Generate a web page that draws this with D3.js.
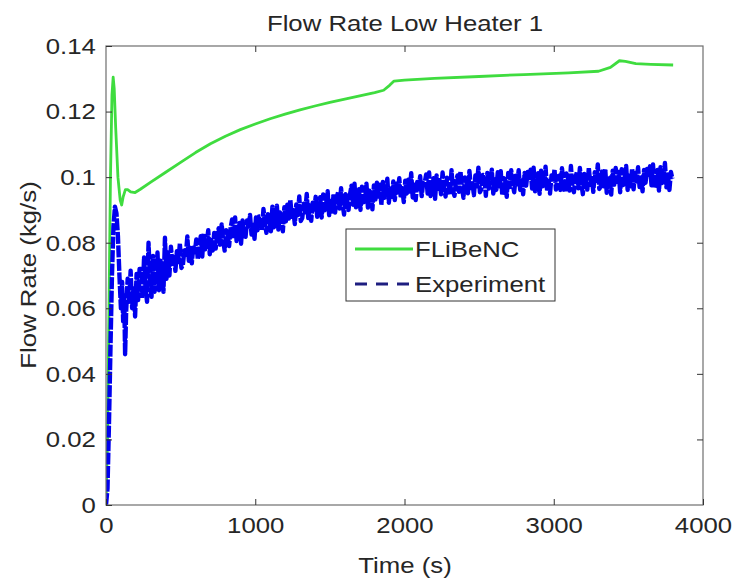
<!DOCTYPE html>
<html><head><meta charset="utf-8">
<script src="https://cdn.jsdelivr.net/npm/d3@7"></script>
<style>body{margin:0;background:#fff}svg{display:block}text{font-family:"Liberation Sans",Arial,sans-serif;fill:#262626}</style>
</head><body>
<svg id="c" width="733" height="579"></svg>
<script>
const title = "Flow Rate Low Heater 1";
const xLabel = "Time (s)";
const yLabel = "Flow Rate (kg/s)";
const xTicks = [0, 1000, 2000, 3000, 4000];
const xTickLabels = ["0", "1000", "2000", "3000", "4000"];
const yTicks = [0, 0.02, 0.04, 0.06, 0.08, 0.1, 0.12, 0.14];
const yTickLabels = ["0", "0.02", "0.04", "0.06", "0.08", "0.1", "0.12", "0.14"];
const seriesNames = ["FLiBeNC", "Experiment"];

// FLiBeNC model
const simTime = [0,10,20,30,40,48,55,65,80,95,105,115,130,145,165,195,230,300,400,500,600,700,800,900,1000,1100,1200,1300,1400,1500,1600,1700,1800,1860,1900,1930,2000,2200,2500,2800,3100,3300,3380,3440,3480,3550,3650,3800];
const simFlow = [0,0.02,0.06,0.1,0.125,0.1305,0.127,0.115,0.1,0.093,0.0915,0.094,0.0962,0.0962,0.0955,0.0953,0.0963,0.0985,0.1015,0.1045,0.1075,0.1102,0.1125,0.1145,0.1162,0.1178,0.1192,0.1205,0.1217,0.1228,0.1238,0.1248,0.1258,0.1265,0.128,0.1293,0.1296,0.1301,0.1307,0.1313,0.1318,0.1323,0.1335,0.1355,0.1353,0.1346,0.1344,0.1342];

// Experiment: start-up transient
const expStartTime = [0,10,20,30,40,50,60,70,80,90,100,108,115,122,128];
const expStartFlow = [0,0.005,0.025,0.048,0.07,0.085,0.091,0.089,0.082,0.07,0.06,0.068,0.056,0.064,0.046];
// Experiment: sampled record from t = 135 s every 10 s
const expSampleStart = 135, expSampleStep = 10;
const expFlow = [
.0590,.0690,.0620,.0715,.0600,.0670,.0575,.0705,.0625,.0720,
.0720,.0630,.0755,.0660,.0620,.0800,.0685,.0635,.0760,.0650,
.0680,.0770,.0655,.0745,.0725,.0650,.0815,.0690,.0770,.0700,
.0788,.0736,.0756,.0714,.0774,.0741,.0798,.0723,.0732,.0776,
.0763,.0819,.0745,.0784,.0737,.0792,.0771,.0810,.0749,.0789,
.0820,.0758,.0828,.0780,.0800,.0838,.0765,.0808,.0776,.0830,
.0782,.0826,.0844,.0794,.0856,.0808,.0776,.0838,.0823,.0790,
.0845,.0871,.0813,.0877,.0805,.0829,.0860,.0797,.0868,.0820,
.0818,.0868,.0842,.0885,.0825,.0854,.0812,.0877,.0838,.0880,
.0880,.0837,.0903,.0860,.0830,.0887,.0873,.0835,.0910,.0847,
.0860,.0913,.0840,.0892,.0885,.0835,.0908,.0865,.0916,.0874,
.0931,.0879,.0899,.0857,.0917,.0884,.0941,.0866,.0875,.0919,
.0893,.0949,.0875,.0914,.0867,.0922,.0901,.0940,.0879,.0919,
.0939,.0877,.0947,.0899,.0919,.0957,.0884,.0927,.0895,.0949,
.0892,.0936,.0954,.0904,.0966,.0918,.0886,.0948,.0933,.0900,
.0948,.0974,.0916,.0980,.0908,.0932,.0963,.0900,.0971,.0923,
.0927,.0980,.0907,.0959,.0952,.0902,.0975,.0932,.0983,.0941,
.0977,.0915,.0985,.0937,.0957,.0995,.0922,.0965,.0933,.0987,
.0930,.0980,.0954,.0997,.0937,.0966,.0924,.0989,.0950,.0992,
.0956,.1012,.0938,.0977,.0930,.0985,.0964,.1003,.0942,.0982,
.0982,.1008,.0950,.1014,.0942,.0966,.0997,.0934,.1005,.0957,
.0991,.0948,.1014,.0971,.0941,.0998,.0984,.0946,.1021,.0958,
.0943,.0987,.1005,.0955,.1017,.0969,.0937,.0999,.0984,.0951,
.1019,.0967,.0987,.0945,.1005,.0972,.1029,.0954,.0963,.1007,
.1005,.0943,.1013,.0965,.0985,.1023,.0950,.0993,.0961,.1015,
.0965,.1018,.0945,.0997,.0990,.0940,.1013,.0970,.1021,.0979,
.0954,.1004,.0978,.1021,.0961,.0990,.0948,.1013,.0974,.1016,
.0997,.1023,.0965,.1029,.0957,.0981,.1012,.0949,.1020,.0972,
.0976,.1032,.0958,.0997,.0950,.1005,.0984,.1023,.0962,.1002,
.1004,.0961,.1027,.0984,.0954,.1011,.0997,.0959,.1034,.0971,
.0954,.0998,.1016,.0966,.1028,.0980,.0948,.1010,.0995,.0962,
.1029,.0977,.0997,.0955,.1015,.0982,.1039,.0964,.0973,.1017,
.0972,.1025,.0952,.1004,.0997,.0947,.1020,.0977,.1028,.0986,
.1016,.0954,.1024,.0976,.0996,.1034,.0961,.1004,.0972,.1026,
.0963,.1013,.0987,.1030,.0970,.0999,.0957,.1022,.0983,.1025,
.1007,.1033,.0975,.1039,.0967,.0991,.1022,.0959,.1030,.0982,
.0987,.1043,.0969,.1008,.0961,.1016,.0995];

const simData = simTime.map((t,i)=>({t, v: simFlow[i]}));
const expData = expStartTime.map((t,i)=>({t, v: expStartFlow[i]}))
  .concat(expFlow.map((v,i)=>({t: expSampleStart + i*expSampleStep, v})));

const L = 106, R = 703, T = 46, B = 505;
const FS = 23, SX = 1.12;
const x = d3.scaleLinear().domain([0,4000]).range([L,R]);
const y = d3.scaleLinear().domain([0,0.14]).range([B,T]);
const svg = d3.select("#c");

svg.append("defs").append("clipPath").attr("id","clip")
  .append("rect").attr("x",L).attr("y",T).attr("width",R-L).attr("height",B-T);

const line = d3.line().x(d=>x(d.t)).y(d=>y(d.v));
const gPlot = svg.append("g").attr("clip-path","url(#clip)");
gPlot.append("path").datum(simData).attr("d",line)
  .attr("fill","none").attr("stroke","#3fdc3f").attr("stroke-width",2.8).attr("stroke-linejoin","round");
gPlot.append("path").datum(expData).attr("d",line)
  .attr("fill","none").attr("stroke","#0000ee").attr("stroke-width",4.4)
  .attr("stroke-dasharray","12,1.5").attr("stroke-linejoin","round");

// Box
svg.append("rect").attr("x",L).attr("y",T).attr("width",R-L).attr("height",B-T)
  .attr("fill","none").attr("stroke","#6e6e6e").attr("stroke-width",1.2);

function styleAxis(g){
  g.select(".domain").remove();
  g.selectAll(".tick line").attr("stroke","#333").attr("stroke-width",1);
}
const gx = svg.append("g").attr("transform",`translate(0,${B})`)
  .call(d3.axisBottom(x).tickValues(xTicks).tickSize(-6).tickPadding(12).tickFormat((d,i)=>xTickLabels[i]));
styleAxis(gx);
gx.selectAll(".tick text").attr("font-size",FS).attr("fill","#262626")
  .attr("transform",`scale(${SX},1)`).attr("x",0);
svg.append("g").attr("transform",`translate(0,${T})`)
  .call(d3.axisTop(x).tickValues(xTicks.slice(1,-1)).tickSize(-6).tickFormat(""))
  .call(g=>styleAxis(g));
const gy = svg.append("g").attr("transform",`translate(${L},0)`)
  .call(d3.axisLeft(y).tickValues(yTicks).tickSize(-6).tickPadding(9).tickFormat((d,i)=>yTickLabels[i]));
styleAxis(gy);
gy.selectAll(".tick text").attr("font-size",FS).attr("fill","#262626")
  .attr("transform",`scale(${SX},1)`);
svg.append("g").attr("transform",`translate(${R},0)`)
  .call(d3.axisRight(y).tickValues(yTicks.slice(1,-1)).tickSize(-6).tickFormat(""))
  .call(g=>styleAxis(g));

// Title and labels
function stretchedText(tx, ty, str, size, anchor, rot){
  const g = svg.append("g").attr("transform",`translate(${tx},${ty})` + (rot?` rotate(${rot})`:"") + ` scale(${SX},1)`);
  return g.append("text").attr("text-anchor",anchor).attr("font-size",size).text(str);
}
stretchedText(405, 31, title, FS, "middle");
stretchedText(405, 573, xLabel, FS, "middle");
stretchedText(36, 275, yLabel, FS, "middle", -90);

// Legend
const lg = svg.append("g");
lg.append("rect").attr("x",346).attr("y",229).attr("width",209).attr("height",72)
  .attr("fill","#fff").attr("stroke","#333").attr("stroke-width",1);
lg.append("line").attr("x1",355).attr("x2",413).attr("y1",249).attr("y2",249)
  .attr("stroke","#3fdc3f").attr("stroke-width",2.8);
lg.append("line").attr("x1",355).attr("x2",413).attr("y1",284).attr("y2",284)
  .attr("stroke","#1e1e80").attr("stroke-width",2.8).attr("stroke-dasharray","12,9");
const lt1 = lg.append("g").attr("transform",`translate(415,257) scale(${SX},1)`);
lt1.append("text").attr("font-size",FS).text(seriesNames[0]);
const lt2 = lg.append("g").attr("transform",`translate(415,292) scale(${SX},1)`);
lt2.append("text").attr("font-size",FS).text(seriesNames[1]);
</script>
</body></html>
